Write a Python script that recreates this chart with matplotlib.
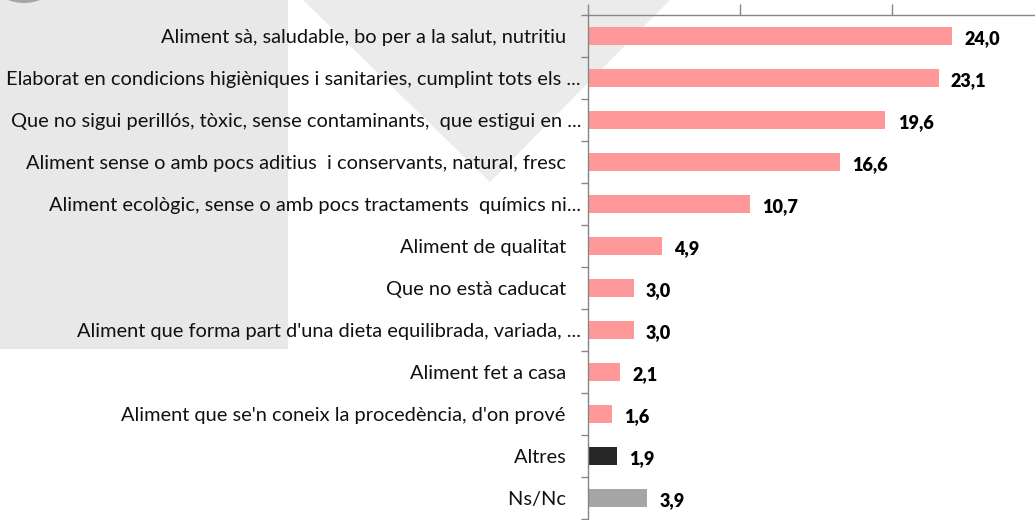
import numpy as np
import matplotlib.pyplot as plt
from matplotlib.patches import Rectangle, Polygon, Ellipse

# === Data ===
categories = [
    "Aliment sà, saludable, bo per a la salut, nutritiu   ",
    "Elaborat en condicions higièniques i sanitaries, cumplint tots els ...",
    "Que no sigui perillós, tòxic, sense contaminants,  que estigui en ...",
    "Aliment sense o amb pocs aditius  i conservants, natural, fresc   ",
    "Aliment ecològic, sense o amb pocs tractaments  químics ni...",
    "Aliment de qualitat   ",
    "Que no està caducat   ",
    "Aliment que forma part d'una dieta equilibrada, variada, ...",
    "Aliment fet a casa   ",
    "Aliment que se'n coneix la procedència, d'on prové   ",
    "Altres   ",
    "Ns/Nc   ",
]
values = [24.0, 23.1, 19.6, 16.6, 10.7, 4.9, 3.0, 3.0, 2.1, 1.6, 1.9, 3.9]
bar_colors = ["#ff9999"] * 10 + ["#262626", "#a6a6a6"]

W, H = 1035, 520
plt.rcParams['font.family'] = ['Lato', 'DejaVu Sans']

fig = plt.figure(figsize=(W / 100, H / 100), dpi=100)
fig.patch.set_facecolor("white")

# === Background watermark shapes (figure pixel coords, y from top) ===
def fp(x, y):
    return (x / W, (H - y) / H)

grey = "#e8e8e8"
fig.patches.append(Rectangle(fp(0, 349), 288 / W, 349 / H, transform=fig.transFigure,
                             facecolor=grey, edgecolor="none", zorder=-2))
fig.patches.append(Polygon([fp(303, 0), fp(670, 0), fp(490, 182)], closed=True,
                           transform=fig.transFigure, facecolor="#ebebeb",
                           edgecolor="none", zorder=-2))
fig.patches.append(Ellipse(fp(24, -41), 88 / W, 88 / H, transform=fig.transFigure,
                           facecolor="#a6a6a6", edgecolor="none", zorder=-2))

# === Chart ===
x0 = 588 / W
ax = fig.add_axes([x0, 1 / H, 1 - x0, (H - 16) / H])
ax.set_zorder(1)
ax.patch.set_alpha(0)

y = np.arange(len(categories))
ax.barh(y, values, height=0.43, color=bar_colors, zorder=2)

for yi, v in zip(y, values):
    ax.text(v + 0.8, yi + 0.05, f"{v:.1f}".replace(".", ","), va="center", ha="left",
            fontsize=13, fontweight="heavy", color="black")

ax.set_xlim(0, 29.45)
ax.set_ylim(len(categories) - 0.5, -0.5)

ax.set_yticks(y)
ax.set_yticklabels(categories, fontsize=14.4, color="#111111")
ax.set_yticks(np.arange(-0.5, len(categories), 1), minor=True)
ax.tick_params(axis="y", which="major", length=0, pad=5)
ax.tick_params(axis="y", which="minor", length=5, width=1, color="#868686", direction="out")

ax.xaxis.tick_top()
ax.set_xticks([0, 10, 20])
ax.set_xticklabels([])
ax.tick_params(axis="x", length=8, width=1, color="#868686", direction="out")

for side in ["bottom", "right"]:
    ax.spines[side].set_visible(False)
for side in ["left", "top"]:
    ax.spines[side].set_color("#868686")
    ax.spines[side].set_linewidth(1)

fig.savefig("out.png", dpi=100)
